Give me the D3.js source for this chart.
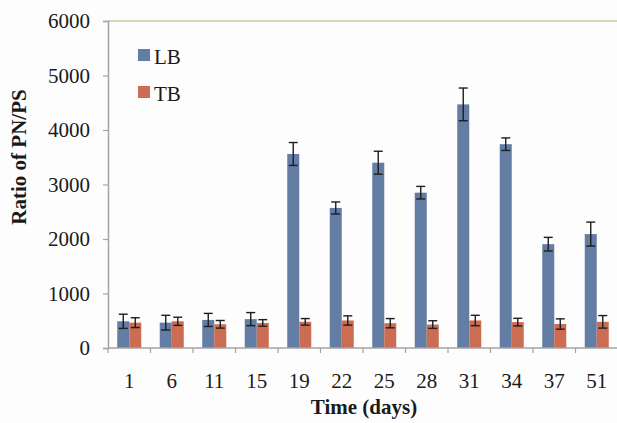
<!DOCTYPE html>
<html>
<head>
<meta charset="utf-8">
<script src="https://cdn.jsdelivr.net/npm/d3@7"></script>
<style>
  html, body { margin: 0; padding: 0; background: #fdfdfd; }
  svg { display: block; }
  text { font-family: "Liberation Serif", "Times New Roman", serif; }
</style>
</head>
<body>
<div id="chart"></div>
<script>
(function () {
  'use strict';

  // --- Data ---
  const days = ['1', '6', '11', '15', '19', '22', '25', '28', '31', '34', '37', '51'];
  const lbValues = [490, 465, 515, 530, 3560, 2570, 3400, 2850, 4470, 3740, 1905, 2090];
  const lbErrors = [130, 135, 120, 120, 210, 110, 210, 115, 300, 115, 125, 220];
  const tbValues = [465, 490, 435, 460, 480, 505, 455, 430, 505, 475, 440, 480];
  const tbErrors = [90, 75, 70, 60, 60, 85, 85, 70, 95, 70, 95, 115];
  const yTicks = [0, 1000, 2000, 3000, 4000, 5000, 6000];
  const seriesNames = ['LB', 'TB'];

  const COLORS = {
    LB: '#637da4',
    TB: '#cc6c53',
    axis: '#a3a3a3',
    top: '#c6caa0',
    err: '#1e1e1e',
    text: '#1a1a1a',
  };
  const FONT = '"Liberation Serif", "Times New Roman", serif';

  const w = 617, h = 423;
  const plot = { left: 108, right: 618, top: 21, bottom: 348 };

  const svg = d3.select('#chart').append('svg')
    .attr('width', w).attr('height', h);

  const x = d3.scaleBand().domain(days).range([plot.left, plot.right]).padding(0);
  const xs = d3.scaleBand().domain(seriesNames)
    .range([0, x.bandwidth()]).paddingInner(0).paddingOuter(0.77);
  const y = d3.scaleLinear().domain([0, 6000]).range([plot.bottom, plot.top]);

  const series = [
    { name: 'LB', values: lbValues, errors: lbErrors },
    { name: 'TB', values: tbValues, errors: tbErrors },
  ];

  // Top boundary line at 6000
  svg.append('line')
    .attr('x1', plot.left).attr('x2', w)
    .attr('y1', y(6000)).attr('y2', y(6000))
    .attr('stroke', COLORS.top).attr('stroke-width', 1.5);

  // Bars
  series.forEach(s => {
    svg.append('g').selectAll('rect')
      .data(days)
      .join('rect')
      .attr('x', (d) => x(d) + xs(s.name))
      .attr('y', (d, i) => y(s.values[i]))
      .attr('width', xs.bandwidth())
      .attr('height', (d, i) => y(0) - y(s.values[i]))
      .attr('fill', COLORS[s.name]);
  });

  // Error bars
  const cap = 4.5;
  series.forEach(s => {
    const g = svg.append('g')
      .attr('stroke', COLORS.err)
      .attr('stroke-width', 1.4)
      .attr('fill', 'none');
    days.forEach((d, i) => {
      const cx = x(d) + xs(s.name) + xs.bandwidth() / 2;
      const lo = y(s.values[i] - s.errors[i]);
      const hi = y(s.values[i] + s.errors[i]);
      g.append('line').attr('x1', cx).attr('x2', cx).attr('y1', lo).attr('y2', hi);
      g.append('line').attr('x1', cx - cap).attr('x2', cx + cap).attr('y1', lo).attr('y2', lo);
      g.append('line').attr('x1', cx - cap).attr('x2', cx + cap).attr('y1', hi).attr('y2', hi);
    });
  });

  // Y axis
  const yAxis = svg.append('g')
    .attr('transform', `translate(${plot.left},0)`)
    .call(d3.axisLeft(y).tickValues(yTicks).tickSize(5).tickPadding(13).tickFormat(d3.format('d')));
  yAxis.attr('font-family', null).attr('font-size', null);
  yAxis.select('.domain').attr('stroke', COLORS.axis).attr('stroke-width', 1.5);
  yAxis.selectAll('.tick line').attr('stroke', COLORS.axis).attr('stroke-width', 1.2);
  yAxis.selectAll('text')
    .attr('fill', COLORS.text)
    .style('font-size', '21px')
    .style('font-family', FONT);

  // X axis: ticks sit between categories
  svg.append('line')
    .attr('x1', plot.left).attr('x2', w)
    .attr('y1', y(0)).attr('y2', y(0))
    .attr('stroke', COLORS.axis).attr('stroke-width', 1.5);
  svg.append('g').selectAll('line')
    .data(days)
    .join('line')
    .attr('x1', d => x(d)).attr('x2', d => x(d))
    .attr('y1', y(0)).attr('y2', y(0) + 5)
    .attr('stroke', COLORS.axis).attr('stroke-width', 1.2);
  svg.append('g').selectAll('text')
    .data(days)
    .join('text')
    .attr('x', d => x(d) + x.bandwidth() / 2)
    .attr('y', 388)
    .attr('text-anchor', 'middle')
    .attr('fill', COLORS.text)
    .style('font-size', '21px')
    .text(d => d);

  // Axis titles
  svg.append('text')
    .attr('x', 364).attr('y', 414)
    .attr('text-anchor', 'middle')
    .attr('fill', COLORS.text)
    .style('font-size', '21px')
    .style('font-weight', '700')
    .text('Time (days)');

  svg.append('text')
    .attr('transform', 'translate(26,157) rotate(-90)')
    .attr('text-anchor', 'middle')
    .attr('fill', COLORS.text)
    .style('font-size', '21px')
    .style('font-weight', '700')
    .text('Ratio of PN/PS');

  // Legend
  const legend = svg.append('g');
  seriesNames.forEach((name, i) => {
    const ly = 49 + i * 37;
    legend.append('rect')
      .attr('x', 138).attr('y', ly)
      .attr('width', 12).attr('height', 12)
      .attr('fill', COLORS[name]);
    legend.append('text')
      .attr('x', 154).attr('y', ly + 15)
      .attr('fill', COLORS.text)
      .style('font-size', '21px')
      .text(name);
  });
})();
</script>
</body>
</html>
